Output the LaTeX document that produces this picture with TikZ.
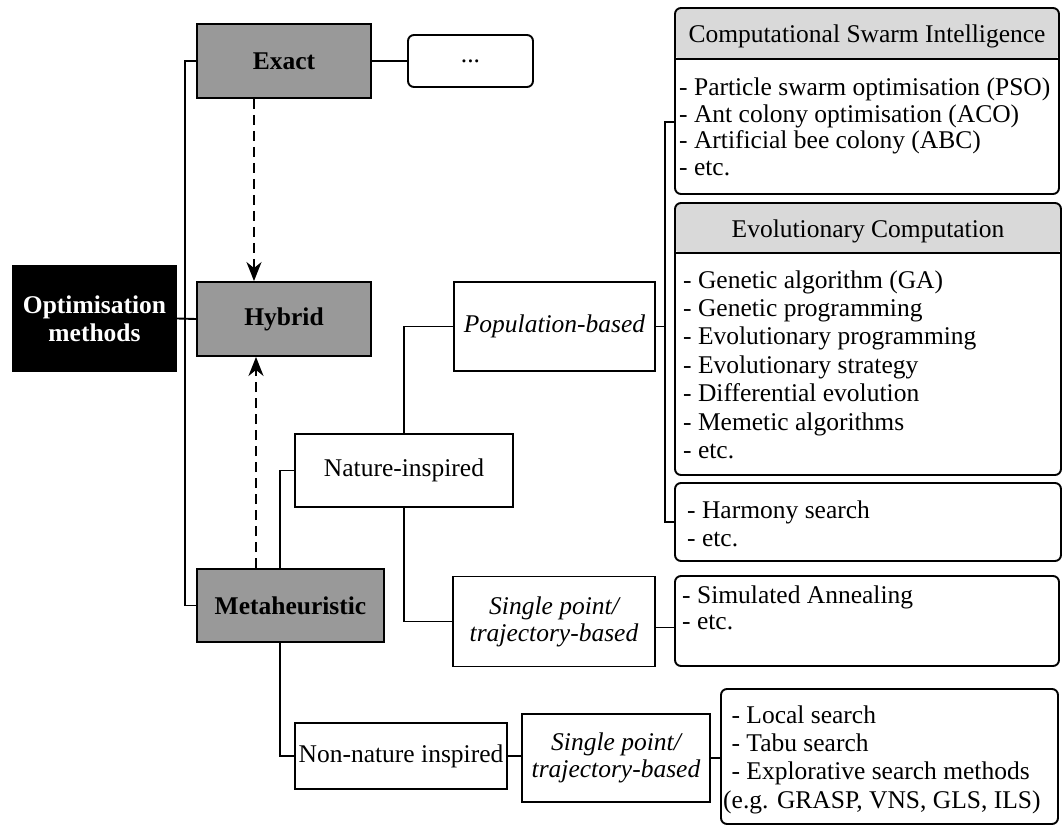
\documentclass[tikz,border=0pt]{standalone}
\usepackage{fontspec}
\setmainfont{Liberation Serif}
\usetikzlibrary{arrows.meta}
\definecolor{boxgrey}{RGB}{153,153,153}
\definecolor{headgrey}{RGB}{217,217,217}

\begin{document}
\begin{tikzpicture}[x=1pt,y=-1pt,
  every node/.style={font=\fontsize{25.5}{28}\selectfont, inner sep=0pt},
  conn/.style={line width=1.9pt},
  dasharrow/.style={line width=1.9pt, dash pattern=on 10pt off 6pt,
    -{Stealth[length=19pt,width=15pt,inset=6pt]}},
  rootbox/.style={fill=black, text=white, font=\fontsize{25.5}{27.7}\selectfont\bfseries, align=center},
  catbox/.style={draw, line width=1.9pt, fill=boxgrey, font=\fontsize{25.5}{28}\selectfont\bfseries},
  plainbox/.style={draw, line width=1.9pt, fill=white},
  itbox/.style={plainbox, align=center, font=\fontsize{25.5}{27}\selectfont\itshape},
  panel/.style={draw, line width=1.9pt, fill=white, rounded corners=6pt},
  headed/.style={path picture={\fill[headgrey] (path picture bounding box.north west)
      rectangle ([yshift=-#1]path picture bounding box.north east);}},
  % multi-line lists are placed by the baseline of their last line
  listtext/.style={anchor=base west, align=left},
]
\useasboundingbox (0,0) rectangle (1062,826);

% main categories
\node[rootbox, minimum width=165pt, minimum height=107pt] (opt) at (94.5,318.5) {Optimisation\\methods};
\node[catbox, minimum width=174pt, minimum height=74pt] (exact) at (284,61) {Exact};
\node[catbox, minimum width=174pt, minimum height=74pt] (hybrid) at (284,319) {Hybrid};
\node[catbox, minimum width=187pt, minimum height=73pt] (meta) at (290.5,605.5) {Metaheuristic};
\node[panel, minimum width=125pt, minimum height=52pt] (dots) at (470.5,61) {...};

% metaheuristic branches
\node[plainbox, minimum width=218pt, minimum height=73pt] (nature) at (404,470.5) {Nature-inspired};
\node[plainbox, minimum width=212pt, minimum height=66pt] (nn) at (401,756) {Non-nature inspired};
\node[itbox, minimum width=201pt, minimum height=89pt] (pop) at (554.5,326.5) {Population-based};
\node[itbox, minimum width=202pt, minimum height=90pt] (sp1) at (554,621.5) {Single point/\\trajectory-based};
\node[itbox, minimum width=188pt, minimum height=88pt] (sp2) at (616,758) {Single point/\\trajectory-based};

% algorithm panels
\node[panel, headed=51pt, minimum width=384pt, minimum height=186pt] (csi) at (867,101) {};
\draw[conn] (csi.west |- 0,59) -- (csi.east |- 0,59);
\node[anchor=base] (csihead) at (867,42.5) {Computational Swarm Intelligence};
\node[listtext, font=\fontsize{25.5}{26.4}\selectfont] (csilist) at (679,175.2)
  {- Particle swarm optimisation (PSO)\\- Ant colony optimisation (ACO)\\- Artificial bee colony (ABC)\\- etc.};

\node[panel, headed=50pt, minimum width=386pt, minimum height=272pt] (ec) at (868,339) {};
\draw[conn] (ec.west |- 0,253) -- (ec.east |- 0,253);
\node[anchor=base] (echead) at (868,238) {Evolutionary Computation};
\node[listtext, font=\fontsize{25.5}{28.4}\selectfont] (eclist) at (683,458.4)
  {- Genetic algorithm (GA)\\- Genetic programming\\- Evolutionary programming\\- Evolutionary strategy\\- Differential evolution\\- Memetic algorithms\\- etc.};

\node[panel, minimum width=386pt, minimum height=78pt] (harm) at (868,522) {};
\node[listtext, font=\fontsize{25.5}{28}\selectfont] (harmlist) at (687,546)
  {- Harmony search\\- etc.};

\node[panel, minimum width=384pt, minimum height=90pt] (sa) at (867,621) {};
\node[listtext, font=\fontsize{25.5}{26}\selectfont] (salist) at (682,629)
  {- Simulated Annealing\\- etc.};

\node[panel, minimum width=337pt, minimum height=135pt] (ls) at (889.5,756.5) {};
\node[listtext, font=\fontsize{25.5}{28.3}\selectfont] (lslist) at (723,808.2)
  {\hspace*{8.4pt}- Local search\\\hspace*{8.4pt}- Tabu search\\\hspace*{8.4pt}- Explorative search methods\\(e.g. GRASP, VNS, GLS, ILS)};

% tree connectors
\draw[conn] (exact.west) -- ++(-11,0) |- (meta.west);
\draw[conn] (opt.east) -- (hybrid.west);
\draw[conn] (exact.east) -- (dots.west);
\draw[dasharrow] (exact.south -| 254,0) -- (hybrid.north -| 254,0);
\draw[dasharrow] (meta.north -| 256,0) -- (hybrid.south -| 256,0);
\draw[conn] (meta.north -| 280,0) |- (nature.west);
\draw[conn] (meta.south -| 280,0) |- (nn.west);
\draw[conn] (nature.north) |- (pop.west);
\draw[conn] (nature.south) |- (sp1.west);
\draw[conn] (nn.east) -- (nn.east -| sp2.west);
\draw[conn] (sp2.east) -- (sp2.east -| ls.west);
\draw[conn] ([yshift=-6pt]sp1.east) -- ([yshift=-6pt]sp1.east -| sa.west);
\coordinate (bus) at (665,326.5);
\draw[conn] (pop.east) -- (bus);
\draw[conn] ([yshift=-21pt]csi.west) -| (bus) |- (harm.west);
\end{tikzpicture}
\end{document}
